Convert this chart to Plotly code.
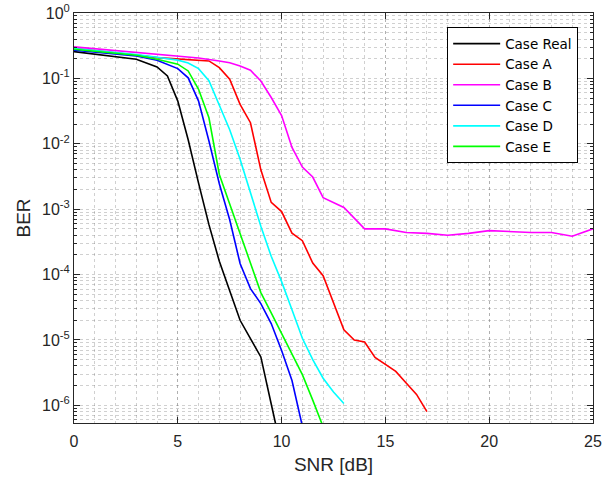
import plotly.graph_objects as go

snr_real = [0, 1, 2, 3, 4, 4.5, 5, 5.5, 6, 6.5, 7, 7.5, 8, 8.5, 9, 9.5, 10]
ber_real = [0.257, 0.236, 0.215, 0.196, 0.150, 0.109, 0.045, 0.0115, 2.5e-3, 5.8e-4, 1.6e-4,
            5.7e-5, 2.0e-5, 1.05e-5, 5.5e-6, 1.05e-6, 2e-7]

snr_a = [0, 1, 2, 3, 4, 5, 5.5, 6, 6.5, 7, 7.5, 8, 8.5, 9, 9.5, 10, 10.5, 11, 11.5, 12, 12.5,
         13, 13.5, 14, 14.5, 15, 15.5, 16, 16.5, 17]
ber_a = [0.288, 0.268, 0.25, 0.228, 0.208, 0.198, 0.19, 0.188, 0.185, 0.146, 0.097, 0.04, 0.021,
         4.0e-3, 1.27e-3, 9.2e-4, 4.3e-4, 3.3e-4, 1.5e-4, 9.6e-5, 3.7e-5, 1.43e-5, 1.0e-5, 9.3e-6,
         5.4e-6, 4.2e-6, 3.3e-6, 2.2e-6, 1.47e-6, 8e-7]

snr_b = [0, 1, 2, 3, 4, 5, 6, 7, 7.5, 8, 8.5, 9, 9.5, 10, 10.5, 11, 11.5, 12, 13, 14, 15, 16,
         17, 18, 19, 20, 21, 22, 23, 24, 25]
ber_b = [0.303, 0.285, 0.265, 0.25, 0.236, 0.222, 0.205, 0.185, 0.174, 0.155, 0.133, 0.091,
         0.051, 0.027, 8.8e-3, 4.4e-3, 3.1e-3, 1.5e-3, 1.06e-3, 5e-4, 5e-4, 4.4e-4, 4.27e-4,
         4.0e-4, 4.27e-4, 4.7e-4, 4.5e-4, 4.4e-4, 4.4e-4, 3.85e-4, 5e-4]

snr_c = [0, 1, 2, 3, 4, 4.5, 5, 5.5, 6, 6.5, 7, 7.5, 8, 8.5, 9, 9.5, 10, 10.5, 11]
ber_c = [0.27, 0.252, 0.235, 0.22, 0.19, 0.166, 0.141, 0.102, 0.045, 0.011, 2.45e-3, 6.9e-4,
         1.48e-4, 6.1e-5, 3.6e-5, 1.78e-5, 6.9e-6, 2.4e-6, 4.8e-7]

snr_d = [0, 1, 2, 3, 4, 5, 5.5, 6, 6.5, 7, 7.5, 8, 8.5, 9, 9.5, 10, 10.5, 11, 11.5, 12, 12.5, 13]
ber_d = [0.285, 0.268, 0.25, 0.232, 0.21, 0.19, 0.172, 0.141, 0.092, 0.039, 0.0164, 5.8e-3,
         1.8e-3, 5.5e-4, 1.9e-4, 7.8e-5, 2.9e-5, 1.06e-5, 5e-6, 2.6e-6, 1.6e-6, 1.07e-6]

snr_e = [0, 1, 2, 3, 4, 4.5, 5, 5.5, 6, 6.5, 7, 7.5, 8, 8.5, 9, 9.5, 10, 10.5, 11, 11.5, 12]
ber_e = [0.279, 0.262, 0.245, 0.226, 0.196, 0.179, 0.165, 0.13, 0.068, 0.025, 3.4e-3, 1.2e-3,
         4.2e-4, 1.5e-4, 5.3e-5, 2.6e-5, 1.26e-5, 6e-6, 2.95e-6, 1.2e-6, 4.7e-7]

names = ["Case Real", "Case A", "Case B", "Case C", "Case D", "Case E"]
colors = ["#000000", "#ff0000", "#ff00ff", "#0000ff", "#00ffff", "#00ff00"]
xs = [snr_real, snr_a, snr_b, snr_c, snr_d, snr_e]
ys = [ber_real, ber_a, ber_b, ber_c, ber_d, ber_e]

y_tickvals = [1e-6, 1e-5, 1e-4, 1e-3, 1e-2, 1e-1, 1]
y_ticktext = ["10<sup>-6</sup>", "10<sup>-5</sup>", "10<sup>-4</sup>", "10<sup>-3</sup>",
              "10<sup>-2</sup>", "10<sup>-1</sup>", "10<sup>0</sup>"]
x_tickvals = [0, 5, 10, 15, 20, 25]

fig = go.Figure()
for x, y, n, c in zip(xs, ys, names, colors):
    fig.add_trace(go.Scatter(x=x, y=y, mode="lines", name=n,
                             line=dict(color=c, width=1.6)))

minor_y = [m * 10.0 ** e for e in range(-7, 0) for m in range(2, 10)]
grid_c = "rgba(110,110,110,0.32)"
axis_c = "#262626"
font_fam = "Liberation Sans, Arial, sans-serif"

fig.update_layout(
    width=613, height=479,
    margin=dict(l=74, r=20, t=13, b=56, autoexpand=False),
    plot_bgcolor="white", paper_bgcolor="white",
    font=dict(family=font_fam, size=16, color=axis_c),
    showlegend=True,
    legend=dict(x=0.719, y=0.965, xanchor="left", yanchor="top",
                bgcolor="white", bordercolor="#000000", borderwidth=1,
                font=dict(family="DejaVu Sans, sans-serif", size=13.5, color="#000000"),
                tracegroupgap=0, itemwidth=47),
    xaxis=dict(range=[0, 25], tickvals=x_tickvals, ticks="inside", ticklen=6,
               tickcolor=axis_c, showline=True, linecolor=axis_c, linewidth=1,
               mirror="ticks", showgrid=True, gridcolor=grid_c, griddash="dot",
               gridwidth=1, zeroline=False, automargin=False,
               tickfont=dict(size=16), ticklabelstandoff=4,
               title=dict(text="SNR [dB]", standoff=8, font=dict(size=19)),
               minor=dict(dtick=1, showgrid=True, gridcolor=grid_c, griddash="dot",
                          gridwidth=1, ticks="")),
    yaxis=dict(type="log", range=[-6.27, 0], tickvals=y_tickvals, ticktext=y_ticktext,
               ticks="inside", ticklen=6, tickcolor=axis_c, showline=True,
               linecolor=axis_c, linewidth=1, mirror="ticks", showgrid=True,
               gridcolor=grid_c, griddash="dot", gridwidth=1, zeroline=False,
               automargin=False, tickfont=dict(size=16),
               title=dict(text="BER", standoff=6, font=dict(size=19)),
               minor=dict(tickvals=minor_y, showgrid=True, gridcolor=grid_c,
                          griddash="dot", gridwidth=1, ticks="inside", ticklen=3,
                          tickcolor=axis_c)),
)

fig.write_html("out.html", config={"displayModeBar": False},
               post_script="document.body.style.margin='0px';")
